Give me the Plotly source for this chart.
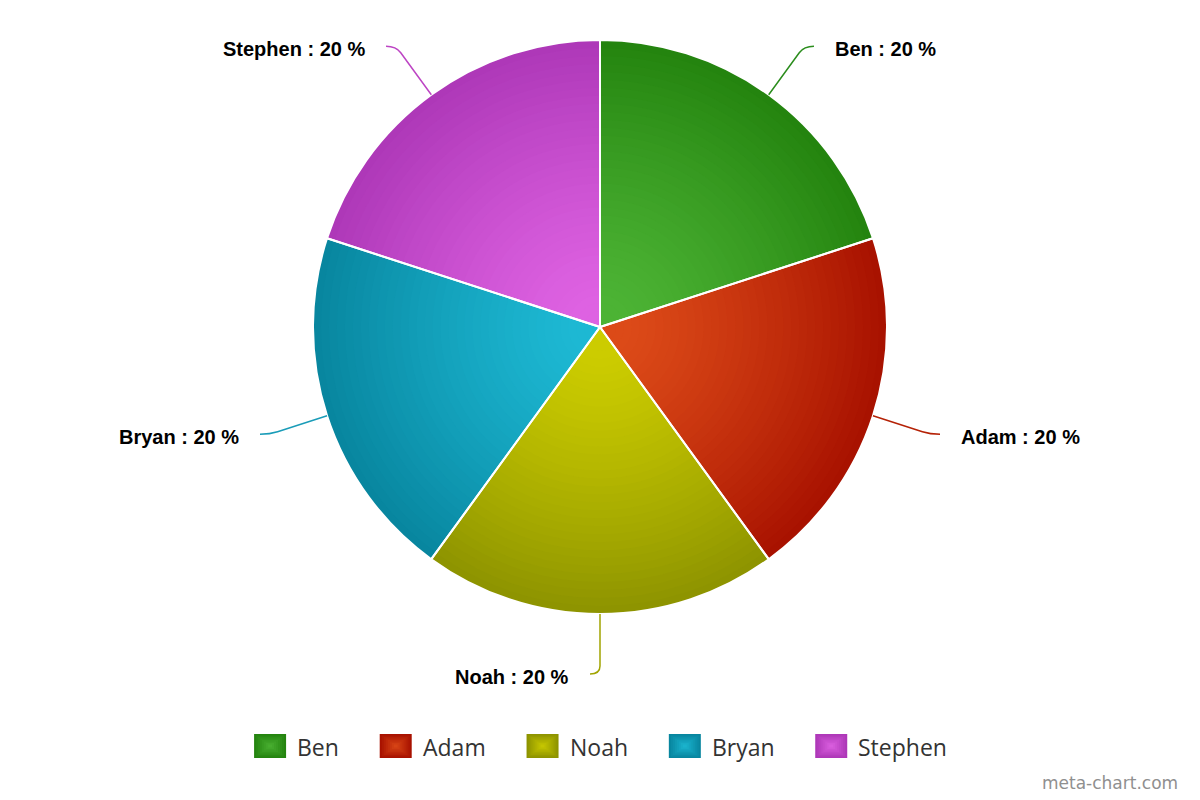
import math
import plotly.graph_objects as go

# ---- data ----
labels = ["Ben", "Adam", "Noah", "Bryan", "Stephen"]
values = [20, 20, 20, 20, 20]
light_colors = ["#4cb334", "#dc4a18", "#cccc00", "#1db8d3", "#de62e2"]
dark_colors = ["#24840f", "#a81200", "#8e9400", "#08869f", "#ae38b8"]
line_colors = ["#2b8d1d", "#b52206", "#a1a400", "#1a9cb8", "#bd45c4"]

# ---- layout constants ----
W, H = 1200, 800
CX, CY, R = 600, 327, 287
N_LAYERS = 36


def hex2rgb(h):
    h = h.lstrip("#")
    return [int(h[i:i + 2], 16) for i in (0, 2, 4)]


def mix(c1, c2, f):
    a, b = hex2rgb(c1), hex2rgb(c2)
    return "rgb(%d,%d,%d)" % tuple(round(a[i] + (b[i] - a[i]) * f) for i in range(3))


def px(x):
    return x / W


def py(y):
    return 1 - y / H


fig = go.Figure()

# stacked pies fake the radial gradient (dark rim -> light centre)
for k in range(N_LAYERS):
    t = 1 - k / N_LAYERS
    r = R * t
    f = min(1.0, max(0.0, (t - 0.1) / 0.9)) ** 1.25
    cols = [mix(l, d, f) for l, d in zip(light_colors, dark_colors)]
    fig.add_trace(go.Pie(
        labels=labels, values=values, sort=False, direction="clockwise",
        rotation=0, textinfo="none", hoverinfo="skip", showlegend=False,
        marker=dict(colors=cols, line=dict(width=0)),
        domain=dict(x=[px(CX - r), px(CX + r)], y=[py(CY + r), py(CY - r)]),
    ))

# top layer: white separators + hover
fig.add_trace(go.Pie(
    labels=labels, values=values, sort=False, direction="clockwise",
    rotation=0, textinfo="none", showlegend=False,
    hovertemplate="%{label}: %{percent}<extra></extra>",
    marker=dict(colors=["rgba(0,0,0,0)"] * len(labels),
                line=dict(color="white", width=2)),
    domain=dict(x=[px(CX - R), px(CX + R)], y=[py(CY + R), py(CY - R)]),
))

shapes = []
annotations = []
total = sum(values)
cum = 0
D = 60
for lab, v, lc in zip(labels, values, line_colors):
    mid = (cum + v / 2) / total * 2 * math.pi
    cum += v
    sx, sy = math.sin(mid), -math.cos(mid)
    x0, y0 = CX + R * sx, CY + R * sy
    xb, yb = CX + (R + D - 8) * sx, CY + (R + D - 8) * sy
    xa, ya = CX + (R + D) * sx, CY + (R + D) * sy
    side = 1 if sx > 1e-6 else -1
    xe, ye = xa + 10 * side, ya
    path = "M %f %f L %f %f Q %f %f %f %f" % (
        px(x0), py(y0), px(xb), py(yb), px(xa), py(ya), px(xe), py(ye))
    shapes.append(dict(type="path", xref="paper", yref="paper", path=path,
                       line=dict(color=lc, width=1.5), layer="above"))
    pct = v / total * 100
    annotations.append(dict(
        x=px(xe + 20 * side), y=py(ye + 3), xref="paper", yref="paper",
        xanchor="left" if side > 0 else "right", yanchor="middle",
        text="%s : %.0f %%" % (lab, pct), showarrow=False, borderpad=0,
        font=dict(family="Liberation Sans, Arial, sans-serif", size=20,
                  color="#000000", weight="bold"),
    ))

# ---- custom legend (large gradient squares) ----
LEG_FONT = 23
char_w = {"B": .635, "e": .561, "n": .614, "A": .633, "d": .613, "a": .556,
          "m": .930, "N": .760, "o": .604, "h": .614, "r": .408, "y": .500,
          "S": .539, "t": .354, "p": .613}
SYM_W, SYM_H, TXT_OFF, GAP = 32, 24, 42, 42
widths = [sum(char_w.get(c, .58) for c in lab) * LEG_FONT for lab in labels]
total_w = sum(TXT_OFF + w for w in widths) + GAP * (len(labels) - 1)
x = CX - total_w / 2
LEG_Y = 746
for lab, w, lcol, dcol in zip(labels, widths, light_colors, dark_colors):
    steps = 8
    for s in range(steps):
        t = 1 - s / steps
        f = t
        hw, hh = SYM_W / 2 * t, SYM_H / 2 * t
        cx = x + SYM_W / 2
        shapes.append(dict(type="rect", xref="paper", yref="paper",
                           x0=px(cx - hw), x1=px(cx + hw),
                           y0=py(LEG_Y + hh), y1=py(LEG_Y - hh),
                           line=dict(width=0), fillcolor=mix(lcol, dcol, f),
                           layer="above"))
    annotations.append(dict(
        x=px(x + TXT_OFF), y=py(LEG_Y + 1), xref="paper", yref="paper",
        xanchor="left", yanchor="middle", text=lab, showarrow=False,
        borderpad=0, font=dict(family="Open Sans, sans-serif", size=LEG_FONT,
                               color="#333333"),
    ))
    x += TXT_OFF + w + GAP

annotations.append(dict(
    x=px(1179), y=py(783), xref="paper", yref="paper", xanchor="right",
    yanchor="middle", text="meta-chart.com", showarrow=False, borderpad=0,
    font=dict(family="DejaVu Sans, sans-serif", size=17, color="#8f8f8f"),
))

fig.update_layout(
    width=W, height=H, margin=dict(l=0, r=0, t=0, b=0),
    paper_bgcolor="white", plot_bgcolor="white",
    shapes=shapes, annotations=annotations, showlegend=False,
)

fig.write_html("out.html")
